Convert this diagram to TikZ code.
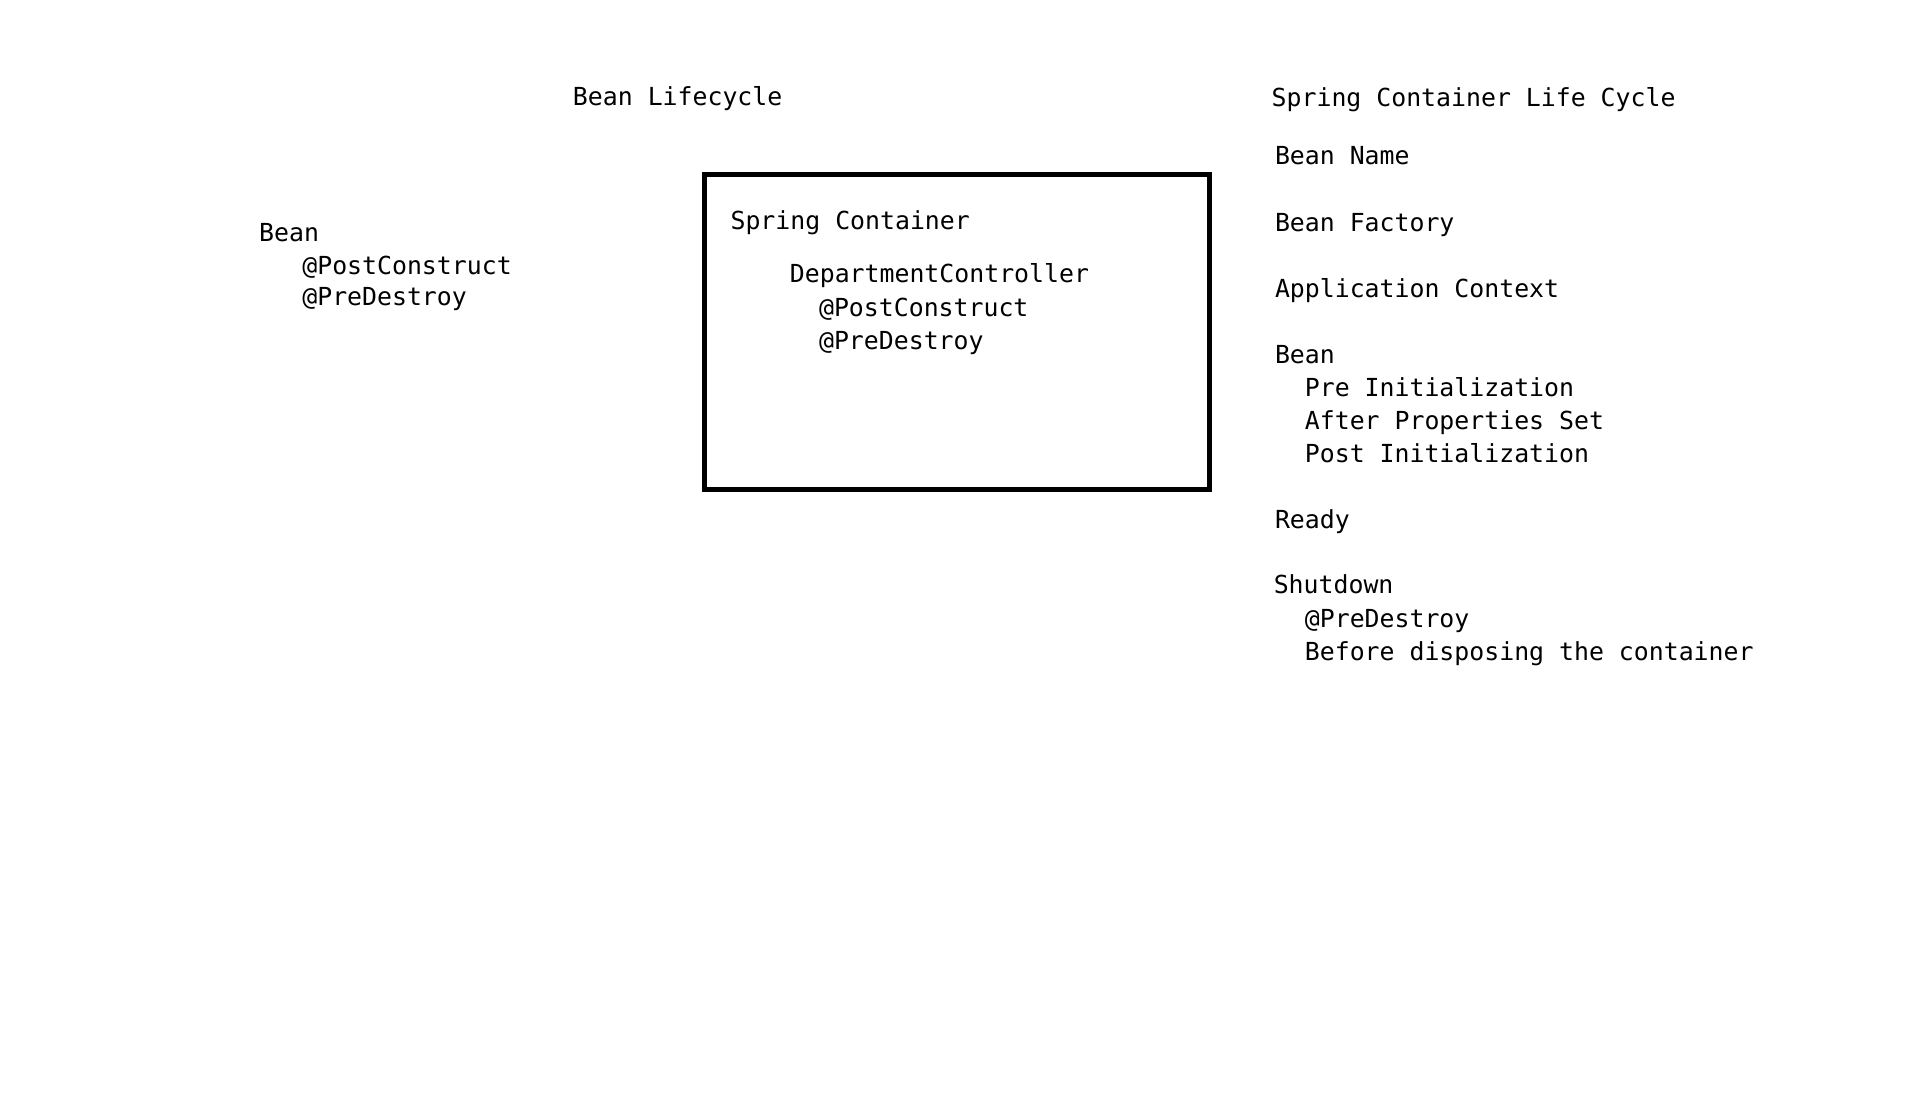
\documentclass[tikz,border=0pt]{standalone}
\usepackage{fontspec}
\setmonofont{DejaVu Sans Mono}
\usetikzlibrary{positioning}
\tikzset{
  every picture/.style={font=\ttfamily\fontsize{20.35}{27}\selectfont},
  cycle text/.style={anchor=base west, inner sep=0pt, outer sep=0pt},
  container box/.style={draw=black, line width=4.1pt, fill=none, outer sep=0pt,
    anchor=north west, inner sep=0pt, minimum width=413.3pt, minimum height=257.6pt}
}
\begin{document}
\begin{tikzpicture}[x=1pt,y=1pt]
  \useasboundingbox (0,0) rectangle (1568,-903.6);
  % left: bean annotations
  \node[cycle text] (lifeTitle) at (469.4,-86.8) {Bean Lifecycle};
  \node[cycle text] (beanL) at (212.3,-198) {Bean};
  \node[cycle text] (postL) at (247.7,-224.5) {@PostConstruct};
  \node[cycle text] (preL) at (247.7,-250.5) {@PreDestroy};
  % middle: the container
  \node[container box] (container) at (577.2,-143.2) {};
  \node[cycle text] (springC) at (598.5,-187.9) {Spring Container};
  \node[cycle text] (deptCtrl) at (647.1,-231.6) {DepartmentController};
  \node[cycle text] (postC) at (671,-258.9) {@PostConstruct};
  \node[cycle text] (preC) at (671,-286.7) {@PreDestroy};
  % right: container life cycle
  \node[cycle text] (cycleTitle) at (1041.8,-87.2) {Spring Container Life Cycle};
  \node[cycle text] (beanName) at (1044.5,-135) {Bean Name};
  \node[cycle text] (beanFactory) at (1044.5,-189.8) {Bean Factory};
  \node[cycle text] (appContext) at (1044.5,-244) {Application Context};
  \node[cycle text] (beanR) at (1044.5,-298) {Bean};
  \node[cycle text] (preInit) at (1069,-325) {Pre Initialization};
  \node[cycle text] (afterProps) at (1069,-352) {After Properties Set};
  \node[cycle text] (postInit) at (1069,-379) {Post Initialization};
  \node[cycle text] (ready) at (1044.5,-433) {Ready};
  \node[cycle text] (shutdown) at (1043.5,-486.5) {Shutdown};
  \node[cycle text] (preDestroy) at (1069,-514) {@PreDestroy};
  \node[cycle text] (beforeDisp) at (1069,-540.7) {Before disposing the container};
\end{tikzpicture}
\end{document}
